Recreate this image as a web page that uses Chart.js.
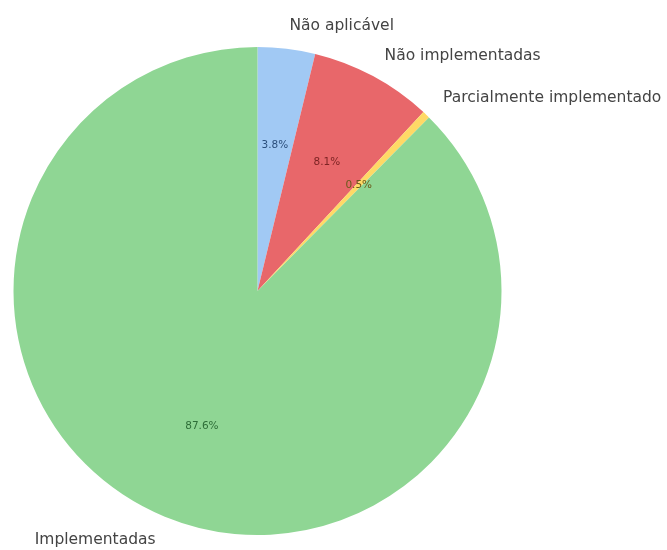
<!DOCTYPE html>
<html>
<head>
<meta charset="utf-8">
<script src="https://cdn.jsdelivr.net/npm/chart.js@4"></script>
<style>
  html, body { margin: 0; padding: 0; background: #fff; }
</style>
</head>
<body>
<canvas id="graficoPie" width="667" height="550"></canvas>
<script>
// Datos del gráfico
const categorias = ['Não aplicável', 'Não implementadas', 'Parcialmente implementado', 'Implementadas'];
const porcentajes = [3.8, 8.1, 0.5, 87.6];
const colores = ['#a1c9f4', '#e8676a', '#ffd966', '#8fd694'];
const coloresTexto = ['#2c4f7c', '#7d2424', '#6b5a1a', '#2e6e38'];

// Plugin para etiquetas externas y porcentajes internos (estilo matplotlib)
const etiquetasPie = {
    id: 'etiquetasPie',
    afterDatasetsDraw(chart) {
        const ctx = chart.ctx;
        const meta = chart.getDatasetMeta(0);
        ctx.save();
        ctx.textBaseline = 'middle';
        meta.data.forEach((arc, i) => {
            const mid = (arc.startAngle + arc.endAngle) / 2;
            const r = arc.outerRadius;
            const cos = Math.cos(mid), sin = Math.sin(mid);

            // etiqueta a 1.1 del radio
            const lx = arc.x + cos * r * 1.1;
            const ly = arc.y + sin * r * 1.1 + 1;
            ctx.font = '15.5px "DejaVu Sans"';
            ctx.fillStyle = '#444444';
            ctx.textAlign = lx < arc.x ? 'right' : 'left';
            ctx.fillText(categorias[i], lx, ly);

            // porcentaje a 0.6 del radio
            const px = arc.x + cos * r * 0.6;
            const py = arc.y + sin * r * 0.6;
            ctx.font = '10.5px "DejaVu Sans"';
            ctx.fillStyle = coloresTexto[i];
            ctx.textAlign = 'center';
            ctx.fillText(porcentajes[i].toFixed(1) + '%', px, py);
        });
        ctx.restore();
    }
};

const ctx = document.getElementById('graficoPie').getContext('2d');
new Chart(ctx, {
    type: 'pie',
    data: {
        labels: categorias,
        datasets: [{
            data: porcentajes,
            backgroundColor: colores,
            borderWidth: 0
        }]
    },
    options: {
        responsive: false,
        animation: false,
        layout: {
            padding: { left: 13, right: 165, top: 47, bottom: 15 }
        },
        plugins: {
            legend: { display: false },
            tooltip: { enabled: false }
        }
    },
    plugins: [etiquetasPie]
});
</script>
</body>
</html>
